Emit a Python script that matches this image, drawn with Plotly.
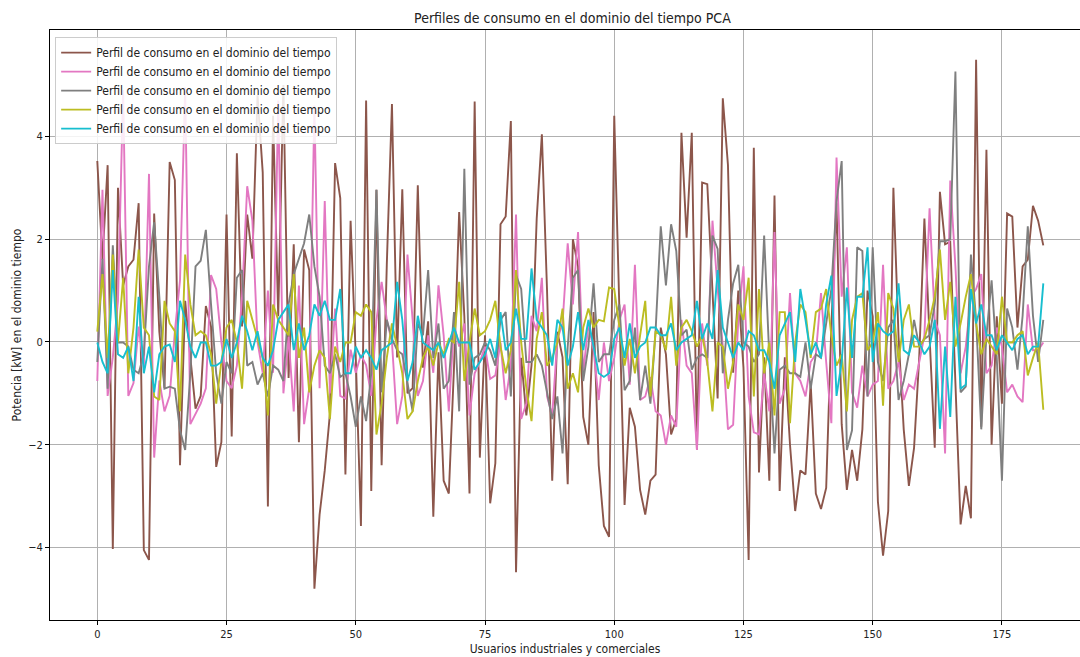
import plotly.graph_objects as go

usuarios = list(range(184))

perfil_1 = [3.52, 1.6, 3.44, -4.03, 3.0, 1.1, 1.47, 1.6, 2.7, -4.05, -4.24, 2.5, 0.2, -0.9, 3.5, 3.15, -2.4, 0.8, -0.3, -1.3,
            -1.05, 0.7, 0.3, -2.43, -1.95, 2.48, -1.84, 3.67, 0.3, 2.48, 1.62, 4.8, 3.3, -3.2, 4.4, 0.5, 5.0, -0.7, 1.9, -1.95,
            1.8, 1.4, -4.8, -3.36, -2.5, -1.4, 3.48, 2.8, -2.58, 2.36, -0.3, -3.58, 4.7, -2.9, 2.96, -2.4, 1.5, 4.63, -0.3, 2.97,
            -1.0, -0.9, 3.05, -0.5, 0.4, -3.4, -0.2, -2.7, -2.95, -0.5, 2.53, 0.5, -2.95, 4.68, -2.25, 0.13, -3.14, -2.36, 2.29, 2.44,
            4.3, -4.48, -0.31, -1.43, -0.45, 2.4, 4.04, 1.0, -2.7, 0.2, -0.3, -2.77, 2.0, 1.47, -1.46, -2.0, 0.58, -2.4, -3.58, -3.79,
            4.4, 0.8, -3.17, -1.28, -1.65, -2.88, -3.36, -2.7, -2.58, 0.28, -0.24, -1.8, -1.5, 4.07, 2.03, 4.07, -2.1, 3.1, 3.07, 1.0,
            -1.1, 4.74, 3.44, -0.6, 1.0, -0.5, -4.24, 3.78, -2.54, -0.3, -2.7, 2.85, -2.9, -0.3, -2.0, -3.29, -2.5, -2.58, -0.8, -2.95,
            -3.25, -2.84, 0.3, 2.7, -1.6, -2.88, -2.1, -2.7, -1.7, 1.0, 0.5, -3.1, -4.16, -3.29, 3.0, 0.1, -1.7, -2.8, -2.06, -0.3,
            2.4, 0.1, -2.06, 2.92, 1.9, 1.95, -1.0, -3.55, -2.8, -3.43, 5.49, -1.65, 3.74, -2.0, 0.5, -1.2, 2.5, 2.44, 0.28, 1.47,
            1.6, 2.65, 2.36, 1.88]

perfil_2 = [-0.76, 2.96, -1.05, -0.3, 0.8, 4.9, -1.05, -0.8, 0.3, -0.5, 3.27, -2.25, -0.75, -1.35, -1.05, 0.2, 1.2, 4.95, -1.6, -1.4,
            -1.2, -0.9, 1.3, 1.03, 0.0, -0.76, -0.9, -0.46, 0.88, 3.03, 2.36, 0.0, -0.6, 1.0, -0.6, 4.7, -1.0, 0.1, -1.35, 1.1,
            -1.6, -0.9, 4.6, -0.9, 2.74, -1.0, 0.65, -1.05, -1.1, -0.15, -0.6, -0.25, -0.45, -1.05, 0.43, 1.17, 0.43, 0.0, -1.6, -1.05,
            1.7, 0.43, -1.05, -0.76, 0.13, -0.6, 1.1, 0.13, -1.35, 0.35, -0.09, 0.36, -1.43, -0.61, -0.39, -0.09, -0.72, -0.65, -0.01, -1.13,
            -0.46, 2.48, -1.5, -1.2, 0.51, 0.21, 1.25, -1.06, -1.43, 0.06, 0.36, 1.92, 0.73, 2.14, -0.61, 0.36, -0.16, -1.13, -0.01, -0.76,
            -0.31, 0.43, 0.73, -0.83, 1.5, -1.13, -1.06, -0.68, -1.35, -1.43, -2.0, -1.43, -1.65, 0.43, -0.46, -0.61, -2.1, 0.36, -0.46, 2.36,
            1.03, -0.09, -1.7, -1.61, 0.43, 1.47, -1.06, -1.76, -1.8, -0.61, -1.35, 2.14, -1.2, -0.91, 0.95, -0.61, -0.76, -1.06, -0.39, -0.24,
            0.95, -0.39, -1.58, 3.59, 0.88, 1.84, -0.98, -1.28, -0.46, -1.06, -0.83, -0.76, 1.5, -0.91, -0.76, -0.39, -1.13, -0.83, -0.91, -0.39,
            0.13, 2.6, 0.43, 0.13, -2.17, 3.14, 1.47, -0.61, -0.09, 0.88, 1.03, 1.32, -0.61, -0.46, 0.28, -0.09, -0.98, -0.83, -1.06, -1.17,
            0.73, -0.16, -0.16, -0.01]

perfil_3 = [-0.39, 1.62, -0.91, 1.88, -0.01, -0.01, -0.09, -0.54, -0.61, -0.24, 1.47, 2.33, 0.88, -0.91, -0.87, -0.91, -1.72, -2.1, -0.61, 1.47,
            1.58, 2.18, 0.73, -0.61, -1.2, -0.39, -0.61, 1.25, 1.4, -0.46, -0.39, -0.83, -0.61, -1.06, -0.46, -0.54, -0.76, 0.73, 1.32, 1.62,
            1.92, 2.48, 1.47, 0.88, -0.46, -0.61, -0.24, -0.68, -0.61, -1.06, -1.65, -1.06, -1.54, -0.61, 2.96, -0.98, 0.43, 0.06, -0.16, -0.24,
            -0.76, -1.35, 0.36, 0.13, 1.4, -0.31, 0.36, -0.91, -0.76, 0.58, -1.35, 3.37, -0.83, -0.31, -0.24, -0.01, -0.16, -0.46, 0.43, 0.58,
            -1.06, 1.3, 1.03, -0.39, -0.39, -0.24, -0.46, -0.98, -1.5, -1.06, -2.17, -0.09, 1.25, 1.4, -0.76, -0.09, 1.14, -0.39, -0.24, -0.24,
            0.43, 0.73, -0.94, -0.76, 0.28, -1.13, -0.46, -1.2, 0.21, 2.25, 1.1, 2.29, 1.77, 0.13, 0.24, -0.54, -0.31, -0.24, -0.31, 2.07,
            1.81, -0.61, 0.43, 1.14, 1.5, -0.01, -0.09, -0.39, -0.24, 2.07, -0.31, -2.17, -0.54, -0.46, -0.61, -0.61, -0.68, -0.01, -0.91, -0.24,
            -0.31, 0.36, 1.03, 2.74, 3.52, -2.1, -1.72, 1.84, 1.77, -1.06, 1.84, -0.39, -0.76, 0.28, 0.43, -1.13, -0.76, -0.24, 0.43, -0.09,
            0.06, 0.13, 0.73, 1.96, 1.96, 2.0, 5.26, -0.98, -0.87, 1.7, 0.43, -1.7, 0.13, 1.2, -0.31, -2.7, 0.65, 0.28, -0.54, 0.51,
            2.25, 0.51, -0.39, 0.43]

perfil_4 = [0.2, 1.32, -0.31, 1.7, -0.01, 1.25, -0.61, 0.28, 1.8, 0.28, 0.13, -1.06, -1.13, 0.8, 0.36, 0.21, -1.35, 1.7, 0.73, 0.13,
            0.21, 0.13, -0.24, -1.2, -0.39, 0.28, 0.43, -0.01, -0.91, 0.8, 0.43, 0.06, -0.31, -1.43, 0.73, 0.43, 0.28, 0.13, 1.32, -0.31,
            0.28, -0.98, -0.46, -0.16, -0.31, -1.5, -0.09, -0.39, -0.01, -0.01, 0.58, 0.51, 0.73, 0.58, -1.8, -1.2, -0.31, 0.36, -0.09, -0.61,
            -1.5, -1.35, -0.76, -0.31, -0.09, -0.46, -0.01, -0.24, 0.06, -0.01, 1.17, -0.76, -0.01, 0.65, 0.13, 0.21, 0.43, 0.8, -0.09, -0.61,
            -0.16, 1.4, -0.01, -0.91, -1.54, 0.06, 0.58, -0.46, -0.31, -0.01, 0.65, -0.91, -0.61, -0.98, 0.28, 0.65, 0.28, 0.43, 0.4, 1.06,
            1.03, 0.28, -0.46, 0.06, -0.61, 0.13, 0.8, -1.06, 0.21, 0.13, -0.16, 0.88, -0.46, 0.28, 0.43, 0.21, -0.09, 0.13, -0.39, -1.35,
            -0.01, -0.09, -0.91, -0.39, 0.73, 0.43, 1.25, -1.06, 1.03, -0.61, -0.01, -1.43, 0.58, 0.58, -1.58, -0.01, 0.73, 0.58, -0.31, 0.58,
            0.65, 1.03, 0.13, -0.46, -0.24, -1.35, 0.43, 0.88, 0.95, -0.16, -0.01, 0.58, -1.24, 0.95, 0.65, -0.39, 0.43, 0.73, -0.09, -0.09,
            0.06, 0.43, 0.88, 1.8, 0.43, 1.17, -0.09, 0.36, 0.88, 1.32, 0.36, -0.24, 0.06, -0.09, -0.24, 0.88, -0.01, -0.01, 0.13, 0.21,
            -0.65, -0.31, -0.01, -1.32]

perfil_5 = [-0.01, -0.39, -0.61, 1.4, -0.24, -0.31, -0.09, -0.76, 0.88, -0.61, -0.09, -0.98, -0.24, -0.09, -0.05, -0.39, 0.8, 0.43, -0.09, -0.31,
            -0.01, -0.01, -0.46, -0.46, -0.39, 0.06, -0.31, -0.01, 0.51, 0.21, -0.16, 0.21, -0.31, -0.46, -0.16, 0.43, 0.58, 0.73, -0.16, 0.36,
            -0.16, 0.13, 0.73, 0.51, 0.8, 0.43, 0.43, 1.03, -0.61, -0.61, -0.09, -0.31, -0.16, -0.31, -0.54, -0.16, -0.09, -0.01, 1.17, 0.43,
            -0.76, -0.39, 0.51, -0.01, -0.09, -0.16, -0.01, -0.31, -0.01, 0.28, -0.01, -0.01, -0.01, -0.54, -0.39, -0.24, 0.06, -0.31, 0.58, -0.16,
            -0.01, 0.65, 0.06, 0.06, 1.43, 0.43, 0.28, 0.13, -0.46, 0.43, 0.28, -0.46, -0.09, 0.58, -0.16, 0.43, -0.09, -0.61, -0.68, -0.61,
            0.06, 0.28, -0.31, 0.36, -0.31, -0.09, -0.01, 0.28, 0.28, 0.13, 0.13, 0.36, -0.16, -0.01, 0.06, 0.13, 0.8, 0.06, 0.36, 0.06,
            1.4, 0.28, -0.01, -0.31, -0.01, -0.16, 0.21, 0.13, -0.16, -0.16, -0.39, -0.91, 0.13, 0.36, 0.58, -0.39, 1.03, 0.43, -0.24, -0.01,
            -0.31, 0.73, 1.29, -1.05, -0.39, 1.06, -0.31, 0.88, 0.88, 1.84, -0.39, 0.36, 0.21, 0.13, 0.21, 1.14, -0.16, -0.24, 0.13, -0.01,
            -0.24, -0.09, 0.43, -1.69, -0.09, -1.46, 0.88, -0.91, -0.83, 1.03, 0.36, 0.73, 0.13, 0.13, -0.16, 0.13, -0.01, -0.16, 0.06, 0.13,
            -0.24, -0.09, -0.09, 1.14]

series = [perfil_1, perfil_2, perfil_3, perfil_4, perfil_5]
colores = ["#8c564b", "#e377c2", "#7f7f7f", "#bcbd22", "#17becf"]
nombre = "Perfil de consumo en el dominio del tiempo"

FONT = "DejaVu Sans Condensed, DejaVu Sans, sans-serif"

fig = go.Figure()
for vals, col in zip(series, colores):
    fig.add_trace(go.Scatter(x=usuarios, y=vals, mode="lines", name=nombre,
                             line=dict(color=col, width=1.9)))

fig.update_layout(
    width=1080, height=657,
    margin=dict(l=50, r=0, t=30, b=37),
    paper_bgcolor="white", plot_bgcolor="white",
    font=dict(family=FONT, size=12, color="#222222"),
    title=dict(text="Perfiles de consumo en el dominio del tiempo PCA",
               x=0.53, xanchor="center", y=0.972, yanchor="middle",
               font=dict(family=FONT, size=14, color="#222222")),
    showlegend=True,
    legend=dict(x=0.005, y=0.988, xanchor="left", yanchor="top",
                bgcolor="rgba(255,255,255,0.85)", bordercolor="#cccccc", borderwidth=1,
                font=dict(family=FONT, size=12, color="#222222"),
                tracegroupgap=0, itemwidth=30),
)

fig.update_xaxes(range=[-9.15, 190.1], tickvals=[0, 25, 50, 75, 100, 125, 150, 175],
                 showgrid=True, gridcolor="#b0b0b0", gridwidth=1, zeroline=False,
                 showline=True, linecolor="black", linewidth=1, mirror=True,
                 ticks="outside", ticklen=4, tickcolor="black",
                 tickfont=dict(size=11),
                 title=dict(text="Usuarios industriales y comerciales", font=dict(size=12), standoff=4))
fig.update_yaxes(range=[-5.41, 6.07], tickvals=[-4, -2, 0, 2, 4],
                 showgrid=True, gridcolor="#b0b0b0", gridwidth=1, zeroline=False,
                 showline=True, linecolor="black", linewidth=1, mirror=False,
                 ticks="outside", ticklen=4, tickcolor="black",
                 tickfont=dict(size=11),
                 title=dict(text="Potencia [kW] en el dominio tiempo", font=dict(size=12), standoff=4))

fig.write_html("out.html")
